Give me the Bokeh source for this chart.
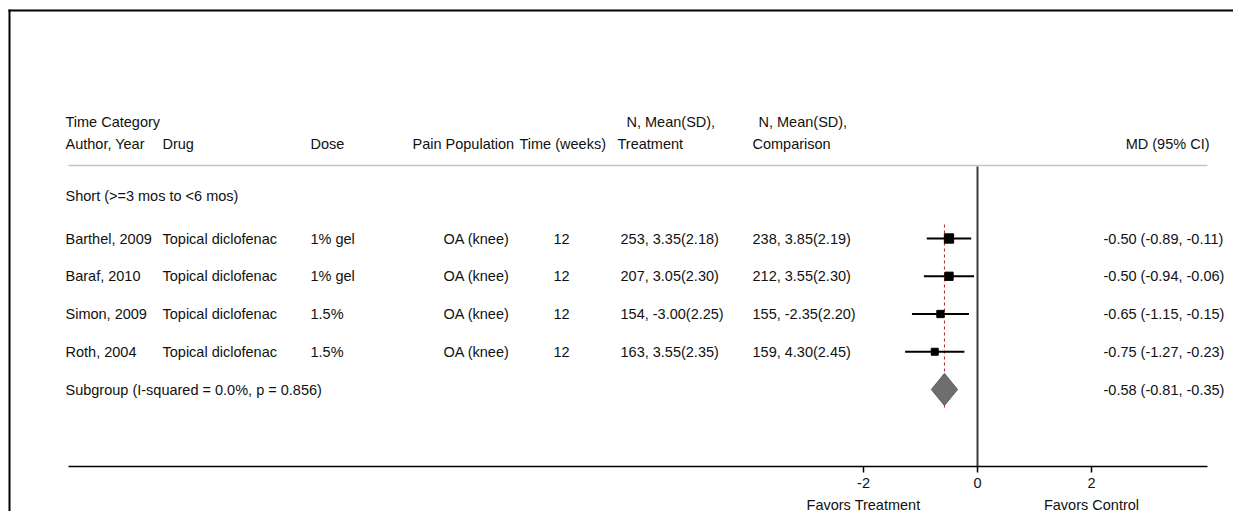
from bokeh.plotting import figure
from bokeh.models import Range1d, LinearAxis, FixedTicker, ColumnDataSource
from bokeh.core.properties import value
from bokeh.embed import file_html
from bokeh.resources import INLINE

# ---------------- data ----------------
group_label = "Short (>=3 mos to <6 mos)"
authors = ["Barthel, 2009", "Baraf, 2010", "Simon, 2009", "Roth, 2004"]
drugs = ["Topical diclofenac", "Topical diclofenac", "Topical diclofenac", "Topical diclofenac"]
doses = ["1% gel", "1% gel", "1.5%", "1.5%"]
populations = ["OA (knee)", "OA (knee)", "OA (knee)", "OA (knee)"]
weeks = ["12", "12", "12", "12"]
treatment = ["253, 3.35(2.18)", "207, 3.05(2.30)", "154, -3.00(2.25)", "163, 3.55(2.35)"]
comparison = ["238, 3.85(2.19)", "212, 3.55(2.30)", "155, -2.35(2.20)", "159, 4.30(2.45)"]
md = [-0.50, -0.50, -0.65, -0.75]
lo = [-0.89, -0.94, -1.15, -1.27]
hi = [-0.11, -0.06, -0.15, -0.23]
weights = [33.8, 26.7, 20.6, 19.0]
pooled = (-0.58, -0.81, -0.35)
subgroup_label = "Subgroup (I-squared = 0.0%, p = 0.856)"
header1 = ["Time Category", "N, Mean(SD),", "N, Mean(SD),"]
header2 = ["Author, Year", "Drug", "Dose", "Pain Population", "Time (weeks)", "Treatment", "Comparison"]
ci_header = "MD (95% CI)"
xticks = [-2, 0, 2]
favors = {-2: "Favors Treatment", 2: "Favors Control"}

# ---------------- layout helpers ----------------
W, H = 1233, 511
X0, SCALE = 977.0, 57.0          # screen x of MD = 0, pixels per MD unit


def px(X):
    return (X - X0) / SCALE


FONT = value("Liberation Sans")
FS = "14.5px"
TXT = "#111111"

p = figure(width=W, height=H,
           x_range=Range1d(px(0), px(W)), y_range=Range1d(H, 0),
           x_axis_location=None, y_axis_location=None,
           toolbar_location=None, output_backend="svg",
           min_border=0, outline_line_color=None,
           background_fill_color="white", border_fill_color="white")
p.grid.visible = False


def txt(xs, ys, texts, align="left"):
    p.text(x=xs, y=ys, text=texts, text_font=FONT, text_font_size=FS,
           text_color=TXT, text_baseline="middle", text_align=align)


# frame border (left, top)
p.segment(x0=[px(9), px(8)], y0=[9, 10], x1=[px(9), px(W + 10)], y1=[H + 10, 10],
          line_color="black", line_width=2)

# headers
txt([px(65), px(626), px(758)], [121, 121, 121], header1)
col_x = [65, 162, 310, 412, 519, 617, 752]
txt([px(x) for x in col_x], [143] * 7, header2)
txt([px(1209)], [143], [ci_header], align="right")

# header rule
p.segment(x0=[px(68)], y0=[165], x1=[px(1207)], y1=[165], line_color="#c4c4c4", line_width=1.5)

# null line
p.segment(x0=[0], y0=[166], x1=[0], y1=[466], line_color="#3c3c3c", line_width=2)

# group label
txt([px(65)], [195], [group_label])

# rows
row_y = [238 + 37.75 * i for i in range(len(authors))]
sub_y = 238 + 37.75 * len(authors)
cols = [authors, drugs, doses, populations, weeks, treatment, comparison]
cx = [65, 162, 310, 443, 553, 620, 752]
for c, xpos in zip(cols, cx):
    txt([px(xpos)] * len(c), row_y, c)

ci_text = ["%.2f (%.2f, %.2f)" % (m, l, h) for m, l, h in zip(md, lo, hi)]
txt([px(1103)] * len(ci_text), row_y, ci_text)

# pooled reference line
p.segment(x0=[pooled[0]], y0=[224], x1=[pooled[0]], y1=[408],
          line_color="#b22222", line_width=1, line_dash="3 3")

src = ColumnDataSource(dict(md=md, lo=lo, hi=hi, y=row_y,
                            size=[1.6 * w ** 0.5 for w in weights]))
p.segment(x0="lo", y0="y", x1="hi", y1="y", source=src, line_color="black", line_width=2)
p.scatter(x="md", y="y", size="size", marker="square", source=src,
          fill_color="black", line_color="black")

# subgroup diamond
p.patch(x=[pooled[1], pooled[0], pooled[2], pooled[0]],
        y=[sub_y, sub_y - 16, sub_y, sub_y + 16],
        fill_color="#6e6e6e", line_color="#5a5a5a", line_width=1)
txt([px(65)], [sub_y], [subgroup_label])
txt([px(1103)], [sub_y], ["%.2f (%.2f, %.2f)" % pooled])

# x axis
ax = LinearAxis(fixed_location=466, ticker=FixedTicker(ticks=xticks),
                bounds=(px(68), px(1207)),
                major_label_overrides={t: ("%g" % t) for t in xticks})
ax.axis_line_color = "black"
ax.axis_line_width = 1.5
ax.major_tick_line_color = "black"
ax.major_tick_line_width = 1.5
ax.major_tick_out = 6
ax.major_tick_in = 0
ax.minor_tick_out = 0
ax.minor_tick_in = 0
ax.major_label_standoff = 5
ax.major_label_text_font = "Liberation Sans"
ax.major_label_text_font_size = FS
ax.major_label_text_color = TXT
p.add_layout(ax, "below")

ax2 = LinearAxis(fixed_location=491, ticker=FixedTicker(ticks=list(favors.keys())),
                 major_label_overrides=favors)
ax2.axis_line_color = None
ax2.major_tick_line_color = None
ax2.major_tick_out = 0
ax2.major_tick_in = 0
ax2.minor_tick_out = 0
ax2.minor_tick_in = 0
ax2.major_label_standoff = 5
ax2.major_label_text_font = "Liberation Sans"
ax2.major_label_text_font_size = FS
ax2.major_label_text_color = TXT
p.add_layout(ax2, "below")

open("out.html", "w").write(file_html(p, INLINE))
